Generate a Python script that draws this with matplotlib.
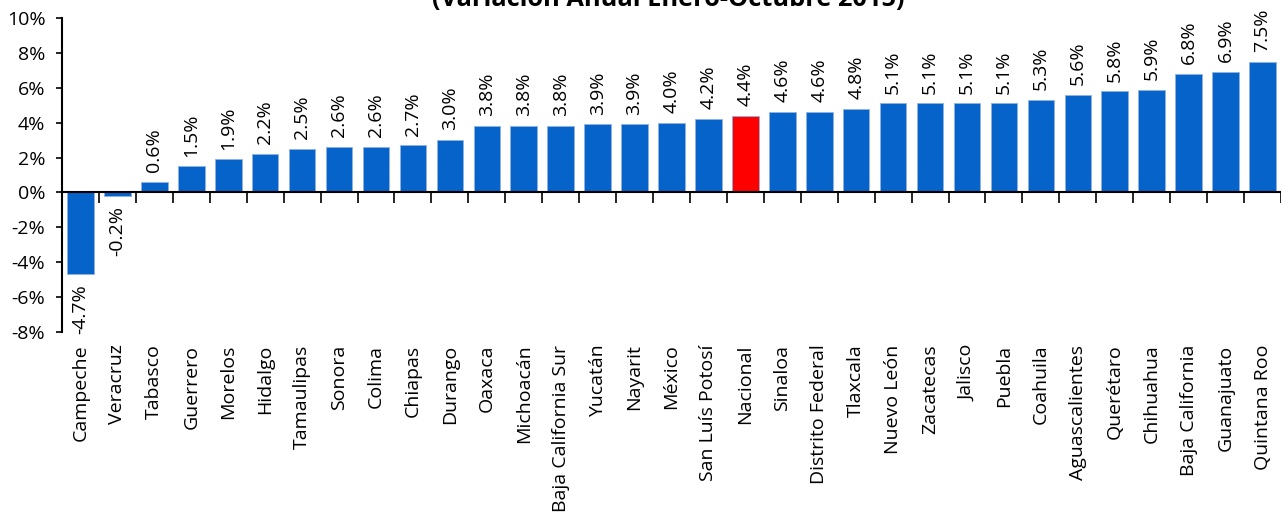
import matplotlib
matplotlib.use("Agg")
import matplotlib.pyplot as plt
import matplotlib.transforms as mtransforms
import numpy as np

plt.rcParams['font.family'] = ['Open Sans', 'DejaVu Sans']

estados = ["Campeche", "Veracruz", "Tabasco", "Guerrero", "Morelos", "Hidalgo",
           "Tamaulipas", "Sonora", "Colima", "Chiapas", "Durango", "Oaxaca",
           "Michoacán", "Baja California Sur", "Yucatán", "Nayarit", "México",
           "San Luís Potosí", "Nacional", "Sinaloa", "Distrito Federal", "Tlaxcala",
           "Nuevo León", "Zacatecas", "Jalisco", "Puebla", "Coahuila",
           "Aguascalientes", "Querétaro", "Chihuahua", "Baja California",
           "Guanajuato", "Quintana Roo"]
variacion = [-4.7, -0.2, 0.6, 1.5, 1.9, 2.2, 2.5, 2.6, 2.6, 2.7, 3.0, 3.8,
             3.8, 3.8, 3.9, 3.9, 4.0, 4.2, 4.4, 4.6, 4.6, 4.8, 5.1, 5.1,
             5.1, 5.1, 5.3, 5.6, 5.8, 5.9, 6.8, 6.9, 7.5]
yticks = [-8, -6, -4, -2, 0, 2, 4, 6, 8, 10]
titulo = "(Variación Anual Enero-Octubre 2015)"

x = np.arange(len(estados))
colores = ["#FF0000" if e == "Nacional" else "#0563C9" for e in estados]

fig = plt.figure(figsize=(12.81, 5.14), dpi=100)
ax = fig.add_axes([62 / 1281, 1 - 332 / 514, 1 - 62 / 1281, (332 - 18) / 514])

ax.bar(x, variacion, width=0.72, color=colores, edgecolor="#8DB3E2", linewidth=0.6, zorder=2)

for xi, v in zip(x, variacion):
    if v >= 0:
        ax.annotate(f"{v:.1f}%", (xi, v), xytext=(0, 7), textcoords="offset points",
                    rotation=90, ha="center", va="bottom", fontsize=14)
    else:
        ax.annotate(f"{v:.1f}%", (xi, v), xytext=(0, -7), textcoords="offset points",
                    rotation=90, ha="center", va="top", fontsize=14)

ax.set_xlim(-0.5, len(estados) - 0.5)
ax.set_ylim(-8, 10)
ax.set_yticks(yticks)
ax.set_yticklabels([f"{t}%" for t in yticks], fontsize=14)

ax.spines["top"].set_visible(False)
ax.spines["right"].set_visible(False)
ax.spines["bottom"].set_position(("data", 0))
ax.spines["left"].set_linewidth(1.5)
ax.spines["bottom"].set_linewidth(1.5)

ax.set_xticks(np.arange(len(estados) + 1) - 0.5)
ax.set_xticklabels([])
ax.tick_params(axis="x", direction="out", length=8, width=1.2)
ax.tick_params(axis="y", direction="out", length=4, width=1.2, pad=8)

trans = mtransforms.blended_transform_factory(ax.transData, ax.transAxes)
for xi, e in zip(x, estados):
    ax.text(xi, -0.04, e, rotation=90, ha="center", va="top", fontsize=14, transform=trans)

fig.text(668 / 1281, 1 - 6 / 514, titulo, ha="center", va="baseline", fontsize=18.3, fontweight="bold")

fig.savefig("out.png", dpi=100)
